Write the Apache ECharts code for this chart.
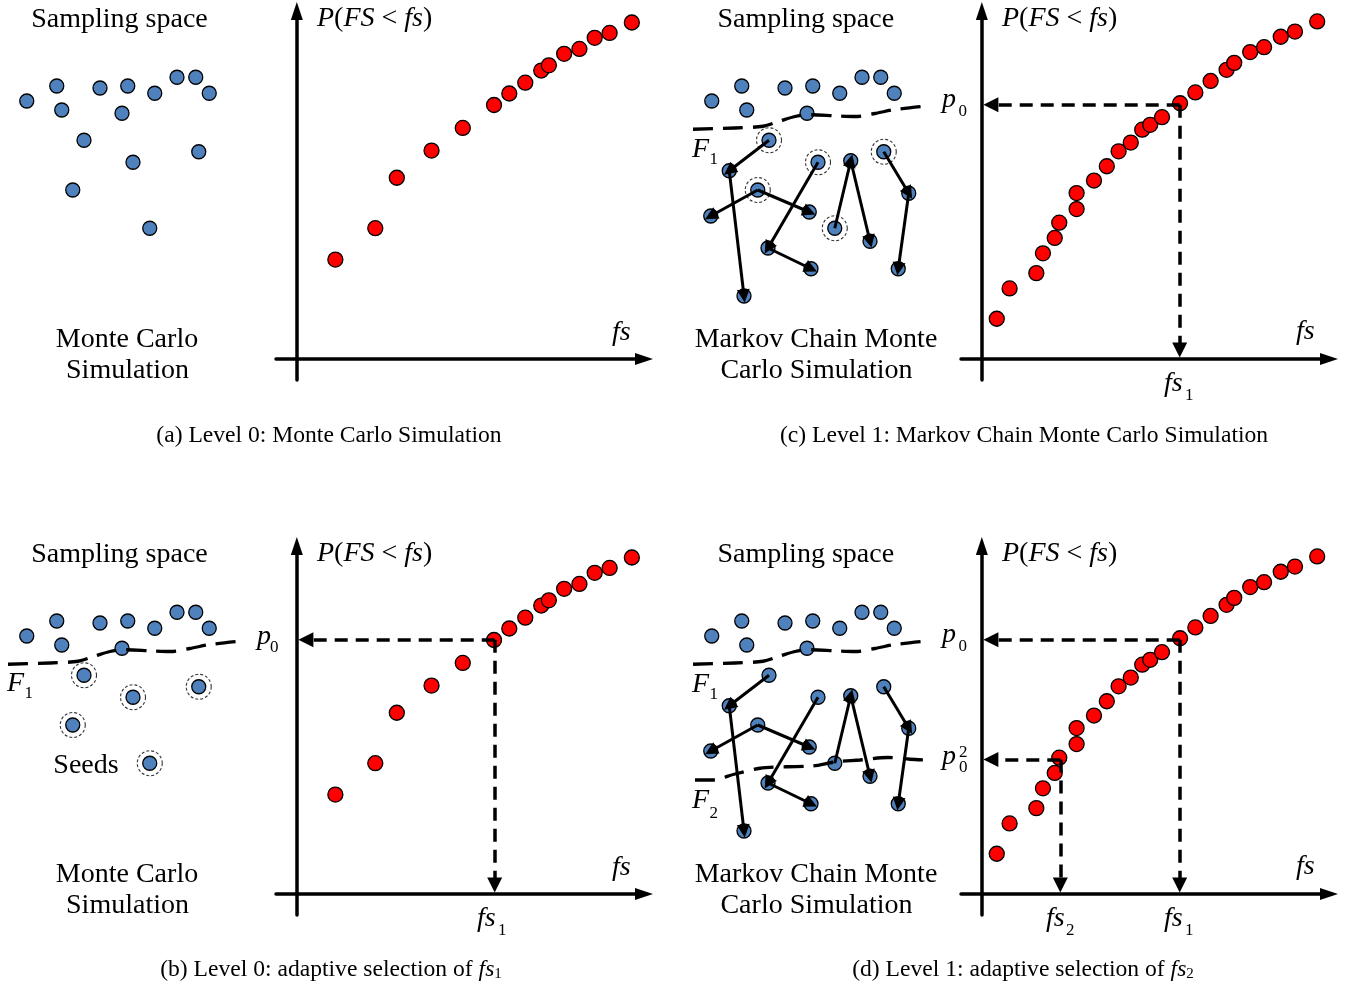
<!DOCTYPE html>
<html><head><meta charset="utf-8">
<script src="https://cdn.jsdelivr.net/npm/echarts@6/dist/echarts.min.js"></script>
<style>html,body{margin:0;padding:0;background:#fff}#c{width:1354px;height:987px}</style>
</head><body><div id="c"></div>
<script>
// ---------- data ----------
// CDF points [fs, P(FS<fs)] (abstract units 0..100)
const cdfLevel0 = [[11.1,28.6],[22.6,37.6],[28.8,52.1],[38.8,59.9],[47.8,66.4],[56.8,73.0],[61.2,76.3],[65.8,79.4],[70.4,82.9],[72.6,84.4],[77.0,87.7],[81.4,89.1],[85.8,92.3],[90.1,93.7],[96.5,96.7]];
const cdfLevel1 = [[4.3,11.6],[8.0,20.3],[15.7,24.7],[17.6,30.4],[21.0,34.8],[22.3,39.2],[27.3,43.1],[27.3,47.7],[32.3,51.3],[36.0,55.4],[39.4,59.7],[42.9,62.2],[46.2,65.9],[48.5,67.3],[51.9,69.5],[57.1,73.5],[61.5,76.6],[65.9,79.9],[70.5,83.1],[72.7,85.1],[77.3,88.2],[81.3,89.6],[86.1,92.6],[90.2,94.1],[96.6,97.0]];
const fs1 = 57.0, p0 = 73.1, fs2 = 22.6, p0sq = 38.7;
// sampling space (abstract units 0..100)
const upperSamples = [[10.7,79.6],[22.7,85.6],[24.7,76.0],[40.0,84.8],[51.1,85.6],[48.8,74.7],[61.9,82.7],[70.8,89.1],[78.3,89.1],[83.7,82.7]];
const seeds = [[33.6,63.9],[53.2,55.1],[79.5,59.3],[29.1,44.0],[59.9,28.7]];
const chainSamples = [[17.7,51.7],[10.3,33.6],[49.7,35.2],[33.2,20.8],[50.4,12.5],[66.3,55.7],[74.0,23.5],[89.5,42.7],[85.3,12.5],[23.6,1.6]];
const chainSteps = [['s0','c0'],['c0','c9'],['s3','c1'],['s3','c2'],['s1','c3'],['c3','c4'],['s4','c5'],['c5','c6'],['s2','c7'],['c7','c8']];
const boundaryF1 = [[3.2,68.3],[20,68.8],[31.2,69.5],[38,71.6],[44,73.4],[50,74.1],[60,73.7],[68,73.4],[76,74.6],[84,76.2],[98,77.7]];
const boundaryF2 = [[4,22],[10.7,22],[20,24.4],[30,26.7],[40,27.3],[51.2,27.6],[60,29.2],[70,30],[81,31],[90,30.3],[98,30]];

// ---------- styling ----------
const FONT = '"Liberation Serif","Times New Roman",serif';
const BLUE = '#4F81BD', RED = '#FF0000';
const ROW_DY = 535;
const ARROW_OFF = 2.6;
const BIG = 28;

const chart = echarts.init(document.getElementById('c'));
const grids = [], xAxes = [], yAxes = [], series = [];

function addCdfGrid(col, row) {
  const gi = grids.length;
  grids.push({left: col ? 961 : 276, top: 11 + row * ROW_DY, width: 368, height: 369});
  const ax = {gridIndex: gi, type: 'value', min: -6, max: 100,
    axisLine: {show: true, onZero: true, symbol: ['none', 'triangle'], symbolSize: [12, 18], lineStyle: {color: '#000', width: 3.5}},
    axisTick: {show: false}, axisLabel: {show: false}, splitLine: {show: false}};
  xAxes.push(Object.assign({}, ax));
  yAxes.push(Object.assign({}, ax));
  return gi;
}
function addSampGrid(col, row) {
  const gi = grids.length;
  grids.push({left: col ? 685 : 0, top: 50 + row * ROW_DY, width: 250, height: 250});
  const ax = {gridIndex: gi, type: 'value', min: 0, max: 100, show: false};
  xAxes.push(Object.assign({}, ax));
  yAxes.push(Object.assign({}, ax));
  return gi;
}
function scatter(gi, data, color, size) {
  series.push({type: 'scatter', xAxisIndex: gi, yAxisIndex: gi, data, symbolSize: size, clip: false,
    itemStyle: {color, borderColor: '#000', borderWidth: 1.3, opacity: 1}, silent: true});
}
function circles(gi, data) {
  series.push({type: 'scatter', xAxisIndex: gi, yAxisIndex: gi, data, symbolSize: 25, clip: false,
    itemStyle: {color: 'rgba(0,0,0,0)', borderColor: '#000', borderWidth: 1.1, borderType: [3, 2]}, silent: true});
}
function arrows(gi, segs, dash, width, size) {
  series.push({type: 'lines', coordinateSystem: 'cartesian2d', xAxisIndex: gi, yAxisIndex: gi, clip: false,
    symbol: ['none', 'triangle'], symbolSize: size,
    lineStyle: {color: '#000', width, type: dash ? dash : 'solid', opacity: 1},
    data: segs.map(s => ({coords: s})), silent: true, z: 5});
}
function boundary(gi, data) {
  series.push({type: 'line', xAxisIndex: gi, yAxisIndex: gi, data, smooth: 0.3, showSymbol: false, symbol: 'none', clip: false,
    lineStyle: {color: '#000', width: 3.3, type: [20, 10]}, silent: true, z: 5});
}
function pt(id) { return id[0] === 's' ? seeds[+id.slice(1)] : chainSamples[+id.slice(1)]; }
const chainSegs = chainSteps.map(([a, b]) => [pt(a), pt(b)]);

// panel a
const ga = addCdfGrid(0, 0), sa = addSampGrid(0, 0);
scatter(ga, cdfLevel0, RED, 15);
scatter(sa, upperSamples, BLUE, 14);
scatter(sa, seeds, BLUE, 14);
// panel b
const gb = addCdfGrid(0, 1), sb = addSampGrid(0, 1);
scatter(gb, cdfLevel0, RED, 15);
arrows(gb, [[[fs1, p0], [ARROW_OFF, p0]], [[fs1, p0], [fs1, ARROW_OFF]]], [13, 8], 3.5, 15);
scatter(sb, upperSamples, BLUE, 14);
scatter(sb, seeds, BLUE, 14);
circles(sb, seeds);
boundary(sb, boundaryF1);
// panel c
const gc = addCdfGrid(1, 0), sc = addSampGrid(1, 0);
scatter(gc, cdfLevel1, RED, 15);
arrows(gc, [[[fs1, p0], [ARROW_OFF, p0]], [[fs1, p0], [fs1, ARROW_OFF]]], [13, 8], 3.5, 15);
scatter(sc, upperSamples, BLUE, 14);
scatter(sc, seeds, BLUE, 14);
scatter(sc, chainSamples, BLUE, 14);
circles(sc, seeds);
boundary(sc, boundaryF1);
arrows(sc, chainSegs, null, 3, 13);
// panel d
const gd = addCdfGrid(1, 1), sd = addSampGrid(1, 1);
scatter(gd, cdfLevel1, RED, 15);
arrows(gd, [[[fs1, p0], [ARROW_OFF, p0]], [[fs1, p0], [fs1, ARROW_OFF]], [[fs2, p0sq], [ARROW_OFF, p0sq]], [[fs2, p0sq], [fs2, ARROW_OFF]]], [13, 8], 3.5, 15);
scatter(sd, upperSamples, BLUE, 14);
scatter(sd, seeds, BLUE, 14);
scatter(sd, chainSamples, BLUE, 14);
boundary(sd, boundaryF1);
boundary(sd, boundaryF2);
arrows(sd, chainSegs, null, 3, 13);

// ---------- text ----------
function T(x, y, text, o) {
  o = o || {};
  const st = {text, fontFamily: FONT, fontSize: o.size || BIG, fontStyle: o.italic ? 'italic' : 'normal', fill: '#000',
    align: o.align || 'left', textAlign: o.align || 'left', verticalAlign: 'middle', textVerticalAlign: 'middle'};
  if (o.rich) st.rich = o.rich;
  return {type: 'text', x, y, silent: true, z: 10, style: st};
}
const richP = {i: {fontFamily: FONT, fontSize: BIG, fontStyle: 'italic'}, n: {fontFamily: FONT, fontSize: BIG}};
const richCap = {n: {fontFamily: FONT, fontSize: 23.6}, i: {fontFamily: FONT, fontSize: 23.6, fontStyle: 'italic'}, s: {fontFamily: FONT, fontSize: 15, verticalAlign: 'bottom'}};
const gfx = [];
for (const row of [0, 1]) {
  const dy = row * ROW_DY;
  gfx.push(T(119.5, 19.5 + dy, 'Sampling space', {align: 'center'}));
  gfx.push(T(127, 339.5 + dy, 'Monte Carlo', {align: 'center'}));
  gfx.push(T(127.5, 371 + dy, 'Simulation', {align: 'center'}));
  gfx.push(T(805.8, 19.5 + dy, 'Sampling space', {align: 'center'}));
  gfx.push(T(816, 339.5 + dy, 'Markov Chain Monte', {align: 'center'}));
  gfx.push(T(816.5, 371 + dy, 'Carlo Simulation', {align: 'center'}));
  gfx.push(T(317, 18.5 + dy, '{i|P}{n|(}{i|FS}{n| < }{i|fs}{n|)}', {rich: richP}));
  gfx.push(T(1002, 18.5 + dy, '{i|P}{n|(}{i|FS}{n| < }{i|fs}{n|)}', {rich: richP}));
  gfx.push(T(612, 332.5 + dy, 'fs', {italic: true}));
  gfx.push(T(1296, 331.5 + dy, 'fs', {italic: true}));
  // F1 and p0 in MCMC panels
  gfx.push(T(692, 149.5 + dy, 'F', {italic: true}));
  gfx.push(T(709.5, 160 + dy, '1', {size: 17}));
  gfx.push(T(942, 99.5 + dy, 'p', {italic: true}));
  gfx.push(T(958.5, 111.5 + dy, '0', {size: 17}));
  // fs1 under CDF (c,d)
  gfx.push(T(1164, 384 + dy, 'fs', {italic: true}));
  gfx.push(T(1185, 396 + dy, '1', {size: 17}));
}
// panel b extras
gfx.push(T(86, 766, 'Seeds', {align: 'center'}));
gfx.push(T(7, 684, 'F', {italic: true}));
gfx.push(T(24.5, 694, '1', {size: 17}));
gfx.push(T(257, 637, 'p', {italic: true}));
gfx.push(T(270, 647.5, '0', {size: 17}));
gfx.push(T(477, 919, 'fs', {italic: true}));
gfx.push(T(498, 931, '1', {size: 17}));
// panel d extras
gfx.push(T(692, 801, 'F', {italic: true}));
gfx.push(T(709.5, 814, '2', {size: 17}));
gfx.push(T(942, 756.5, 'p', {italic: true}));
gfx.push(T(959, 752.5, '2', {size: 17}));
gfx.push(T(959, 767.5, '0', {size: 17}));
gfx.push(T(1046, 919, 'fs', {italic: true}));
gfx.push(T(1066, 931, '2', {size: 17}));
// captions
gfx.push(T(329, 436, '{n|(a) Level 0: Monte Carlo Simulation}', {align: 'center', rich: richCap}));
gfx.push(T(1024, 436, '{n|(c) Level 1: Markov Chain Monte Carlo Simulation}', {align: 'center', rich: richCap}));
gfx.push(T(331, 970, '{n|(b) Level 0: adaptive selection of }{i|fs}{s|1}', {align: 'center', rich: richCap}));
gfx.push(T(1023, 970, '{n|(d) Level 1: adaptive selection of }{i|fs}{s|2}', {align: 'center', rich: richCap}));

chart.setOption({
  animation: false,
  backgroundColor: '#fff',
  grid: grids, xAxis: xAxes, yAxis: yAxes, series,
  graphic: {elements: gfx}
});
</script></body></html>
